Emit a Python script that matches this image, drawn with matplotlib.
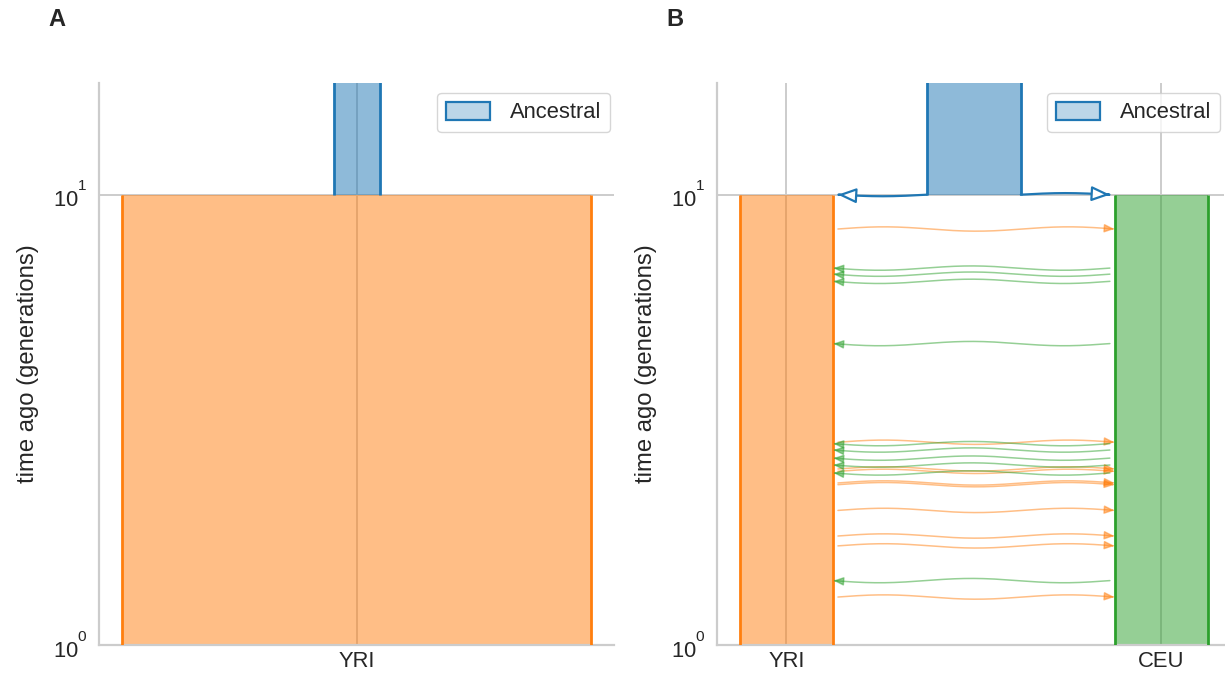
import numpy as np
import matplotlib
matplotlib.use("Agg")
import matplotlib.pyplot as plt
import matplotlib._mathtext as mathtext_internal
import seaborn as sns
from matplotlib.patches import Patch, FancyArrowPatch
from matplotlib.path import Path
from matplotlib.ticker import FixedLocator, LogFormatterSciNotation, NullLocator

sns.set_theme(style="whitegrid")
plt.rcParams["font.family"] = ["Liberation Sans", "DejaVu Sans"]
plt.rcParams["mathtext.fontset"] = "custom"
plt.rcParams["mathtext.rm"] = "Liberation Sans"
plt.rcParams["mathtext.default"] = "regular"
# raise exponents in the log tick labels a little higher
mathtext_internal.FontConstantsBase.sup1 = 1.3

FS = 15.8          # tick labels and legend
FS_LABEL = 17.2    # axis labels

# ---- model data -------------------------------------------------------
split_time = 10.0          # generations ago when Ancestral splits
time_bottom = 1.0
time_top = 17.7

# panel A: one descendant population
a_demes = ["Ancestral", "YRI"]
a_sizes = [1000, 10000]
a_xpos = [0, 0]

# panel B: two descendant populations with migration
b_demes = ["Ancestral", "YRI", "CEU"]
b_sizes = [1000, 1000, 1000]
b_xpos = [2000, 0, 4000]

# times (generations ago) of migration lines
mig_yri_to_ceu = [8.39, 2.82, 2.46, 2.43, 2.29, 2.27, 1.99, 1.746, 1.66, 1.278]
mig_ceu_to_yri = [6.87, 6.66, 6.42, 4.67, 2.80, 2.71, 2.60, 2.51, 2.41, 1.39]

colors = {"Ancestral": "#1f77b4", "YRI": "#ff7f0e", "CEU": "#2ca02c"}

fig = plt.figure(figsize=(12.25, 6.73), dpi=100)
axA = fig.add_axes([99 / 1225, 28 / 673, 515 / 1225, 562 / 673])
axB = fig.add_axes([717 / 1225, 28 / 673, 507 / 1225, 562 / 673])


def draw_deme(ax, name, x, size, t_young, t_old):
    c = colors[name]
    left, right = x - size / 2, x + size / 2
    ax.fill_between([left, right], [t_young, t_young], [t_old, t_old],
                    color=c, alpha=0.5, linewidth=0, zorder=2)
    ax.plot([left, left], [t_young, t_old], color=c, lw=2, zorder=3,
            solid_capstyle="butt")
    ax.plot([right, right], [t_young, t_old], color=c, lw=2, zorder=3,
            solid_capstyle="butt")


def curved_arrow(ax, x0, x1, t, amp, periods, color, lw, alpha, hl, hw, fc):
    u = np.linspace(0, 1, 200)
    xs = x0 + (x1 - x0) * u
    direction = np.sign(x1 - x0)
    ys = t * 10 ** (direction * amp * np.sin(periods * np.pi * u))
    path = Path(np.column_stack([xs, ys]))
    arr = FancyArrowPatch(path=path,
                          arrowstyle=f"-|>,head_length={hl},head_width={hw}",
                          mutation_scale=10, lw=lw, edgecolor=color,
                          facecolor=fc, alpha=alpha, zorder=4)
    ax.add_patch(arr)


def style_axis(ax, names, xpos, xlim, width_px):
    ax.set_yscale("log")
    ax.set_ylim(time_bottom, time_top)
    ax.set_xlim(*xlim)
    ax.yaxis.set_major_locator(FixedLocator([1, 10]))
    ax.yaxis.set_minor_locator(NullLocator())
    ax.yaxis.set_major_formatter(LogFormatterSciNotation())
    ax.set_xticks(xpos)
    ax.set_xticklabels(names)
    ax.tick_params(axis="both", labelsize=FS, length=0)
    ax.tick_params(axis="x", pad=4)
    ax.tick_params(axis="y", pad=8)
    ax.set_ylabel("time ago (generations)", fontsize=FS_LABEL, labelpad=10)
    for s in ("top", "right"):
        ax.spines[s].set_visible(False)
    for s in ("left", "bottom"):
        ax.spines[s].set_color("0.8")
        ax.spines[s].set_linewidth(1.6)
    ax.grid(True, color="0.8", lw=1.4)
    ax.set_axisbelow(True)
    handle = Patch(facecolor=(0.12, 0.47, 0.71, 0.3),
                   edgecolor=colors["Ancestral"], lw=1.6)
    ax.legend([handle], ["Ancestral"], loc="upper right",
              bbox_to_anchor=(1 - 4 / width_px, 1 - 10 / 562),
              borderaxespad=0.0, fontsize=FS, frameon=True, framealpha=0.8,
              edgecolor="0.8", handlelength=2.0, handleheight=0.9,
              handletextpad=0.9, borderpad=0.4)


# ---- panel A ----------------------------------------------------------
draw_deme(axA, "Ancestral", a_xpos[0], a_sizes[0], split_time, time_top * 2)
draw_deme(axA, "YRI", a_xpos[1], a_sizes[1], time_bottom, split_time)
style_axis(axA, ["YRI"], [a_xpos[1]], (-5500, 5480), 515)

# ---- panel B ----------------------------------------------------------
draw_deme(axB, "Ancestral", b_xpos[0], b_sizes[0], split_time, time_top * 2)
draw_deme(axB, "YRI", b_xpos[1], b_sizes[1], time_bottom, split_time)
draw_deme(axB, "CEU", b_xpos[2], b_sizes[2], time_bottom, split_time)
style_axis(axB, ["YRI", "CEU"], [b_xpos[1], b_xpos[2]], (-740, 4667), 507)

yri_right = b_xpos[1] + b_sizes[1] / 2
ceu_left = b_xpos[2] - b_sizes[2] / 2
anc_left = b_xpos[0] - b_sizes[0] / 2
anc_right = b_xpos[0] + b_sizes[0] / 2
gap = 50

# ancestry arrows from the Ancestral deme to its descendants
curved_arrow(axB, anc_left, yri_right + gap, split_time, 0.0035, 1,
             colors["Ancestral"], 1.6, 1.0, 1.1, 0.45, "white")
curved_arrow(axB, anc_right, ceu_left - gap, split_time, 0.0035, 1,
             colors["Ancestral"], 1.6, 1.0, 1.1, 0.45, "white")

# migration lines
for t in mig_yri_to_ceu:
    curved_arrow(axB, yri_right + gap, ceu_left, t, 0.0048, 3,
                 colors["YRI"], 1.1, 0.5, 0.6, 0.25, colors["YRI"])
for t in mig_ceu_to_yri:
    curved_arrow(axB, ceu_left - gap, yri_right, t, 0.0048, 3,
                 colors["CEU"], 1.1, 0.5, 0.6, 0.25, colors["CEU"])

fig.text(57 / 1225, 1 - 19 / 673, "A", fontsize=17, fontweight="bold",
         ha="center", va="center")
fig.text(675 / 1225, 1 - 19 / 673, "B", fontsize=17, fontweight="bold",
         ha="center", va="center")

fig.savefig("out.png", dpi=100)
